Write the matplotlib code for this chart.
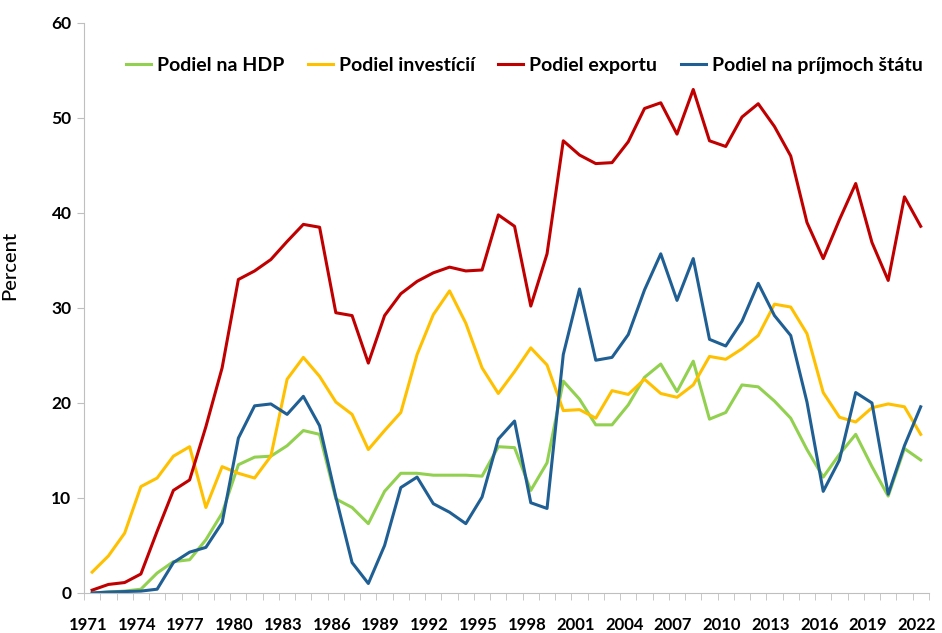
import numpy as np
import matplotlib
matplotlib.use("Agg")
import matplotlib.pyplot as plt
from matplotlib.transforms import ScaledTranslation

plt.rcParams['font.family'] = ['Lato', 'DejaVu Sans']
plt.rcParams['font.weight'] = 'bold'

years = list(range(1971, 2023))

# Podiel na HDP
hdp = [0.0, 0.1, 0.2, 0.4, 2.1, 3.3, 3.5, 5.6, 8.4, 13.5,
       14.3, 14.4, 15.5, 17.1, 16.7, 9.9, 9.0, 7.3, 10.7, 12.6,
       12.6, 12.4, 12.4, 12.4, 12.3, 15.4, 15.3, 10.8, 13.7, 22.3,
       20.4, 17.7, 17.7, 19.8, 22.7, 24.1, 21.2, 24.4, 18.3, 19.0,
       21.9, 21.7, 20.2, 18.4, 15.1, 12.2, 14.6, 16.7, 13.3, 10.2,
       15.2, 14.0]

# Podiel investícií
investicie = [2.2, 3.9, 6.3, 11.2, 12.1, 14.4, 15.4, 9.0, 13.3, 12.6,
              12.1, 14.4, 22.5, 24.8, 22.8, 20.1, 18.8, 15.1, 17.1, 19.0,
              25.1, 29.3, 31.8, 28.4, 23.7, 21.0, 23.3, 25.8, 24.0, 19.2,
              19.3, 18.4, 21.3, 20.9, 22.5, 21.0, 20.6, 21.9, 24.9, 24.6,
              25.7, 27.1, 30.4, 30.1, 27.3, 21.1, 18.5, 18.0, 19.5, 19.9,
              19.6, 16.7]

# Podiel exportu
export = [0.3, 0.9, 1.1, 2.0, 6.5, 10.8, 11.9, 17.5, 23.7, 33.0,
          33.9, 35.1, 37.0, 38.8, 38.5, 29.5, 29.2, 24.2, 29.2, 31.5,
          32.8, 33.7, 34.3, 33.9, 34.0, 39.8, 38.6, 30.2, 35.7, 47.6,
          46.1, 45.2, 45.3, 47.5, 51.0, 51.6, 48.3, 53.0, 47.6, 47.0,
          50.1, 51.5, 49.1, 46.0, 39.0, 35.2, 39.3, 43.1, 36.9, 32.9,
          41.7, 38.6]

# Podiel na príjmoch štátu
prijmy = [0.0, 0.1, 0.15, 0.2, 0.4, 3.2, 4.3, 4.8, 7.4, 16.3,
          19.7, 19.9, 18.8, 20.7, 17.6, 10.1, 3.2, 1.0, 5.0, 11.1,
          12.2, 9.4, 8.5, 7.3, 10.1, 16.2, 18.1, 9.5, 8.9, 25.1,
          32.0, 24.5, 24.8, 27.2, 31.9, 35.7, 30.8, 35.2, 26.7, 26.0,
          28.6, 32.6, 29.2, 27.1, 20.1, 10.7, 14.0, 21.1, 20.0, 10.4,
          15.5, 19.6]

series = [
    ("Podiel na HDP", hdp, "#92D050"),
    ("Podiel investícií", investicie, "#FFC000"),
    ("Podiel exportu", export, "#C00000"),
    ("Podiel na príjmoch štátu", prijmy, "#1F5F94"),
]

fig = plt.figure(figsize=(9.42, 6.33), dpi=100)
ax = fig.add_axes([0.0892, 0.0632, 0.8968, 0.9005])

for name, vals, col in series:
    ax.plot(years, vals, color=col, linewidth=2.2, label=name)

ax.set_xlim(1970.5, 2022.5)
ax.set_ylim(0, 60)
ax.set_yticks(range(0, 61, 10))
ax.set_xticks(years[::3])
ax.set_xticks(np.arange(1970.5, 2023, 1), minor=True)
ax.tick_params(axis='x', which='major', length=0, labelsize=12, pad=17)
ax.tick_params(axis='x', which='minor', length=5, color='#BFBFBF', direction='out')
ax.tick_params(axis='y', length=5, color='#BFBFBF', labelsize=12.5, pad=4)
# excel draws the category labels a touch left of the points
shift = ScaledTranslation(-4 / 100, 0, fig.dpi_scale_trans)
for lab in ax.get_xticklabels():
    lab.set_fontweight('bold')
    lab.set_transform(lab.get_transform() + shift)
for lab in ax.get_yticklabels():
    lab.set_fontweight('bold')

for s in ['top', 'right']:
    ax.spines[s].set_visible(False)
for s in ['left', 'bottom']:
    ax.spines[s].set_color('#BFBFBF')

ax.set_ylabel("Percent", fontsize=14.5, fontweight='medium')
ax.yaxis.set_label_coords(-0.078, 0.575)

leg = ax.legend(loc='center', bbox_to_anchor=(0.521, 0.926), ncol=4, frameon=False,
                handlelength=1.3, handletextpad=0.3, columnspacing=1.2,
                prop={'size': 14, 'weight': 'bold'})

fig.savefig("out.png", dpi=100)
